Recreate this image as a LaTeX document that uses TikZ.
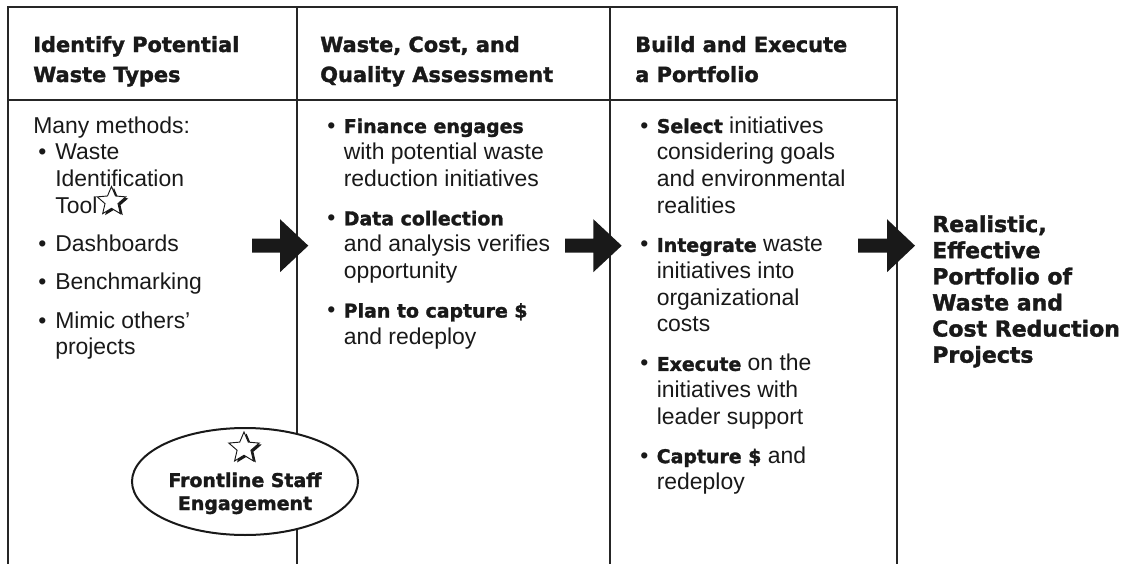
\documentclass[tikz,border=0pt]{standalone}
\usepackage{fontspec}
\setmainfont{Liberation Sans}
\newfontfamily\dvb{DejaVu Sans}[Scale=0.825, BoldFeatures={FakeBold=1.6}]
\usetikzlibrary{shapes.geometric}
\newlength\px \setlength\px{0.75pt}
\newcommand\B[1]{{\dvb\bfseries #1}}
\newcommand\bu{\makebox[16.5\px][l]{•}}
\newcommand\bi{\makebox[22\px][l]{\hspace*{5\px}•}}
\begin{document}
\begin{tikzpicture}[x=0.75pt,y=-0.75pt,
  frame/.style={line width=1pt, draw=black!85},
  headtext/.style={anchor=base west, inner sep=0pt, text=black!90, font=\fontsize{19}{22.5}\selectfont},
  bodytext/.style={anchor=base west, inner sep=0pt, text=black!90, font=\fontsize{17.2}{20}\selectfont},
  outtext/.style={anchor=base west, inner sep=0pt, text=black!90, font=\fontsize{20}{19.6}\selectfont},
  blockarrow/.style={fill=black!90},
  starshadow/.style={star, star points=5, star point ratio=2.2, inner sep=0pt, fill=black!90, minimum size=#1},
  starface/.style={star, star points=5, star point ratio=2.2, inner sep=0pt, fill=white, draw=black!90, line width=0.7pt, minimum size=#1},
  oval/.style={ellipse, draw=black!90, line width=1.5pt, fill=white, inner sep=0pt}
]
\useasboundingbox (0,0) rectangle (1125,564);

% frame
\draw[frame] (8,564) -- (8,7) -- (897,7) -- (897,564);
\draw[frame] (297,7) -- (297,564);
\draw[frame] (610,7) -- (610,564);
\draw[frame] (8,100) -- (897,100);

% headings
\node[headtext] (h1) at (33,52) {\begin{tabular}[t]{@{}l@{}}\B{Identify Potential}\\\B{Waste Types}\end{tabular}};
\node[headtext] (h2) at (320,52) {\begin{tabular}[t]{@{}l@{}}\B{Waste, Cost, and}\\\B{Quality Assessment}\end{tabular}};
\node[headtext] (h3) at (635,52) {\begin{tabular}[t]{@{}l@{}}\B{Build and Execute}\\\B{a Portfolio}\end{tabular}};

% column bodies
\node[bodytext] (b1) at (33,133) {\begin{tabular}[t]{@{}l@{}l@{}}
\multicolumn{2}{@{}l@{}}{Many methods:}\\
\bi & Waste\\
 & Identification\\
 & Tool\\[8.8pt]
\bi & Dashboards\\[8.8pt]
\bi & Benchmarking\\[8.8pt]
\bi & Mimic others’\\
 & projects
\end{tabular}};

\node[bodytext] (b2) at (327,133) {\begin{tabular}[t]{@{}l@{}l@{}}
\bu & \B{Finance engages}\\
 & with potential waste\\
 & reduction initiatives\\[9.2pt]
\bu & \B{Data collection}\\
 & and analysis verifies\\
 & opportunity\\[9.2pt]
\bu & \B{Plan to capture \$}\\
 & and redeploy
\end{tabular}};

\node[bodytext] (b3) at (640,133) {\begin{tabular}[t]{@{}l@{}l@{}}
\bu & \B{Select} initiatives\\
 & considering goals\\
 & and environmental\\
 & realities\\[9.2pt]
\bu & \B{Integrate} waste\\
 & initiatives into\\
 & organizational\\
 & costs\\[9.2pt]
\bu & \B{Execute} on the\\
 & initiatives with\\
 & leader support\\[9.2pt]
\bu & \B{Capture \$} and\\
 & redeploy
\end{tabular}};

% outcome
\node[outtext] (out) at (932,232) {\begin{tabular}[t]{@{}l@{}}\B{Realistic,}\\\B{Effective}\\\B{Portfolio of}\\\B{Waste and}\\\B{Cost Reduction}\\\B{Projects}\end{tabular}};

% star after "Tool"
\node[starshadow=30\px] (s1sh) at (114,203) {};
\node[starface=30\px] (s1) at (111.5,201.5) {};

% block arrows
\fill[blockarrow] (252,238.7) -- (280,238.7) -- (280,219.2) -- (308.3,245.7) -- (280,272.2) -- (280,252.7) -- (252,252.7) -- cycle;
\fill[blockarrow] (565,238.7) -- (593.3,238.7) -- (593.3,219.2) -- (621.7,245.7) -- (593.3,272.2) -- (593.3,252.7) -- (565,252.7) -- cycle;
\fill[blockarrow] (858,238.7) -- (887,238.7) -- (887,219.2) -- (915,245.7) -- (887,272.2) -- (887,252.7) -- (858,252.7) -- cycle;

% frontline staff oval
\node[oval, minimum width=226\px, minimum height=107\px] (fse) at (245,481.5) {};
\node[starshadow=32\px] (s2sh) at (246.5,449.5) {};
\node[starface=32\px] (s2) at (244,448) {};
\node[anchor=base, inner sep=0pt, text=black!90, font=\fontsize{17.2}{17.3}\selectfont] (fsetext) at (245,487) {\begin{tabular}[t]{@{}c@{}}\B{Frontline Staff}\\\B{Engagement}\end{tabular}};
\end{tikzpicture}
\end{document}
